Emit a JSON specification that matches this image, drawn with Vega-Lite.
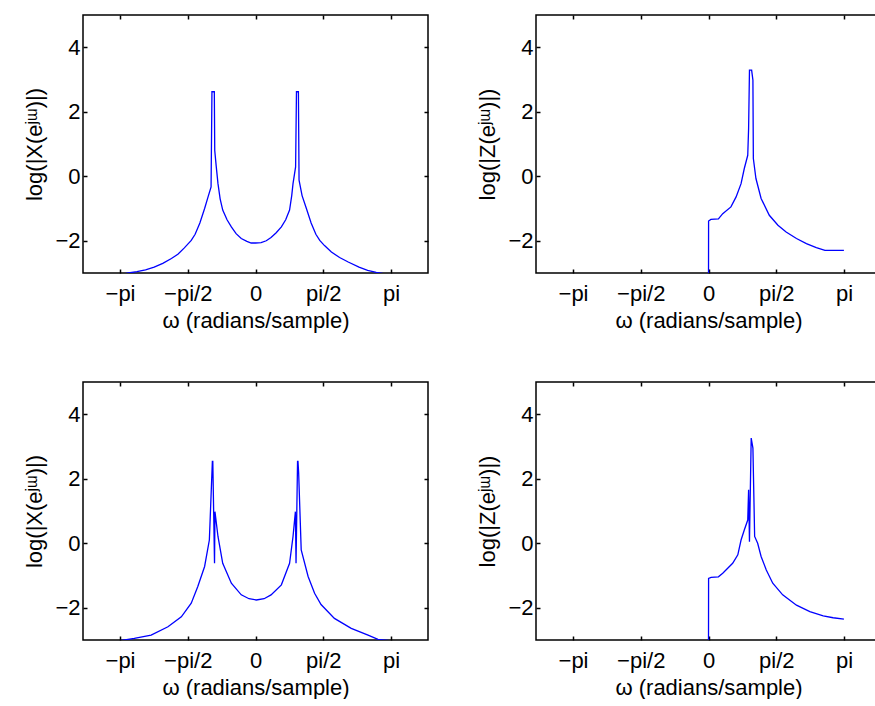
{
  "$schema": "https://vega.github.io/schema/vega-lite/v6.json",
  "padding": {"left": 23, "top": 13, "right": 0, "bottom": 0},
  "background": "white",
  "config": {
    "font": "Liberation Sans",
    "view": {"stroke": "#000000", "strokeWidth": 1.5},
    "axis": {
      "labelFont": "Liberation Sans", "labelFontSize": 22,
      "titleFont": "Liberation Sans", "titleFontSize": 22, "titleFontWeight": "normal",
      "labelColor": "#000000", "titleColor": "#000000", "tickColor": "#000000",
      "tickWidth": 1.5, "domain": false, "grid": false,
      "labelOverlap": false, "labelFlush": false
    }
  },
  "datasets": {
    "tl": [
      {"w": -3.14, "v": -3.05}, {"w": -2.95, "v": -3.0}, {"w": -2.75, "v": -2.96}, {"w": -2.55, "v": -2.9},
      {"w": -2.35, "v": -2.82}, {"w": -2.15, "v": -2.7}, {"w": -1.95, "v": -2.55}, {"w": -1.8, "v": -2.42},
      {"w": -1.65, "v": -2.22}, {"w": -1.49, "v": -1.99}, {"w": -1.4, "v": -1.8}, {"w": -1.29, "v": -1.45},
      {"w": -1.18, "v": -1.0}, {"w": -1.1, "v": -0.64}, {"w": -1.03, "v": -0.33}, {"w": -1.01, "v": 2.62},
      {"w": -0.955, "v": 2.62}, {"w": -0.945, "v": 0.8}, {"w": -0.91, "v": 0.3}, {"w": -0.87, "v": -0.23},
      {"w": -0.82, "v": -0.7}, {"w": -0.76, "v": -1.05}, {"w": -0.66, "v": -1.35}, {"w": -0.56, "v": -1.57},
      {"w": -0.45, "v": -1.78}, {"w": -0.33, "v": -1.93}, {"w": -0.2, "v": -2.02}, {"w": -0.1, "v": -2.07},
      {"w": 0.0, "v": -2.07}, {"w": 0.13, "v": -2.06}, {"w": 0.25, "v": -2.0}, {"w": 0.36, "v": -1.9},
      {"w": 0.48, "v": -1.75}, {"w": 0.6, "v": -1.57}, {"w": 0.7, "v": -1.35}, {"w": 0.79, "v": -1.05},
      {"w": 0.84, "v": -0.6}, {"w": 0.87, "v": -0.23}, {"w": 0.93, "v": 0.29}, {"w": 0.95, "v": 2.62},
      {"w": 0.995, "v": 2.62}, {"w": 1.01, "v": -0.12}, {"w": 1.08, "v": -0.6}, {"w": 1.18, "v": -1.0},
      {"w": 1.29, "v": -1.45}, {"w": 1.4, "v": -1.8}, {"w": 1.49, "v": -1.99}, {"w": 1.6, "v": -2.15},
      {"w": 1.76, "v": -2.35}, {"w": 1.95, "v": -2.52}, {"w": 2.15, "v": -2.66}, {"w": 2.4, "v": -2.82},
      {"w": 2.6, "v": -2.92}, {"w": 2.8, "v": -2.98}, {"w": 2.97, "v": -3.02}, {"w": 3.14, "v": -3.05}
    ],
    "tr": [
      {"w": 0.0, "v": -3.5}, {"w": 0.002, "v": -1.39}, {"w": 0.056, "v": -1.34}, {"w": 0.23, "v": -1.32},
      {"w": 0.33, "v": -1.16}, {"w": 0.52, "v": -0.95}, {"w": 0.64, "v": -0.64}, {"w": 0.755, "v": -0.23},
      {"w": 0.83, "v": 0.24}, {"w": 0.91, "v": 0.65}, {"w": 0.93, "v": 1.48}, {"w": 0.95, "v": 3.29},
      {"w": 1.0, "v": 3.29}, {"w": 1.03, "v": 2.98}, {"w": 1.04, "v": 0.55}, {"w": 1.1, "v": -0.07},
      {"w": 1.22, "v": -0.69}, {"w": 1.41, "v": -1.21}, {"w": 1.61, "v": -1.52}, {"w": 1.8, "v": -1.73},
      {"w": 2.04, "v": -1.93}, {"w": 2.27, "v": -2.09}, {"w": 2.5, "v": -2.21}, {"w": 2.7, "v": -2.3},
      {"w": 3.14, "v": -2.3}
    ],
    "bl": [
      {"w": -3.14, "v": -3.02}, {"w": -2.81, "v": -2.95}, {"w": -2.42, "v": -2.85}, {"w": -2.03, "v": -2.59},
      {"w": -1.72, "v": -2.28}, {"w": -1.49, "v": -1.86}, {"w": -1.34, "v": -1.35}, {"w": -1.18, "v": -0.72},
      {"w": -1.07, "v": 0.1}, {"w": -1.0, "v": 2.54}, {"w": -0.99, "v": 2.54}, {"w": -0.95, "v": -0.62},
      {"w": -0.94, "v": 0.98}, {"w": -0.87, "v": 0.21}, {"w": -0.76, "v": -0.62}, {"w": -0.56, "v": -1.24},
      {"w": -0.33, "v": -1.6}, {"w": -0.15, "v": -1.72}, {"w": 0.02, "v": -1.76}, {"w": 0.2, "v": -1.72},
      {"w": 0.36, "v": -1.6}, {"w": 0.6, "v": -1.29}, {"w": 0.79, "v": -0.62}, {"w": 0.87, "v": 0.21},
      {"w": 0.925, "v": 0.98}, {"w": 0.94, "v": -0.62}, {"w": 0.975, "v": 2.54}, {"w": 0.985, "v": 2.54},
      {"w": 1.0, "v": 2.2}, {"w": 1.06, "v": -0.21}, {"w": 1.22, "v": -1.03}, {"w": 1.37, "v": -1.55},
      {"w": 1.52, "v": -1.9}, {"w": 1.83, "v": -2.33}, {"w": 2.22, "v": -2.64}, {"w": 2.61, "v": -2.85},
      {"w": 2.84, "v": -2.98}, {"w": 3.11, "v": -3.02}
    ],
    "br": [
      {"w": 0.0, "v": -3.5}, {"w": 0.002, "v": -1.09}, {"w": 0.06, "v": -1.06}, {"w": 0.23, "v": -1.04},
      {"w": 0.33, "v": -0.93}, {"w": 0.56, "v": -0.62}, {"w": 0.68, "v": -0.36}, {"w": 0.755, "v": 0.1},
      {"w": 0.83, "v": 0.41}, {"w": 0.91, "v": 0.72}, {"w": 0.93, "v": 1.66}, {"w": 0.95, "v": 0.05},
      {"w": 0.99, "v": 3.26}, {"w": 1.03, "v": 2.95}, {"w": 1.07, "v": 0.21}, {"w": 1.14, "v": 0.0},
      {"w": 1.22, "v": -0.41}, {"w": 1.34, "v": -0.83}, {"w": 1.49, "v": -1.24}, {"w": 1.72, "v": -1.6},
      {"w": 2.04, "v": -1.92}, {"w": 2.35, "v": -2.12}, {"w": 2.66, "v": -2.25}, {"w": 2.89, "v": -2.31},
      {"w": 3.14, "v": -2.35}
    ]
  },
  "columns": 2,
  "spacing": {"row": 109, "column": 108},
  "bounds": "flush",
  "concat": [
    {
      "width": 345, "height": 258,
      "data": {"name": "tl"},
      "layer": [
        {"mark": {"type": "line", "color": "#0000ff", "strokeWidth": 1.3, "clip": true},
         "encoding": {
           "x": {"field": "w", "type": "quantitative", "scale": {"domain": [-4, 4], "nice": false, "zero": false},
                 "axis": {"orient": "bottom", "values": [-3.14159, -1.5708, 0, 1.5708, 3.14159],
                          "labelExpr": "datum.value < -3 ? '−pi' : datum.value < -1 ? '−pi/2' : datum.value > 3 ? 'pi' : datum.value > 1 ? 'pi/2' : '0'",
                          "title": "ω (radians/sample)", "tickSize": -4, "labelPadding": 14, "titlePadding": 6}},
           "y": {"field": "v", "type": "quantitative", "scale": {"domain": [-3, 5], "nice": false, "zero": false},
                 "axis": {"orient": "left", "values": [-2, 0, 2, 4], "title": "log(|X(eʲᵚ)|)", "tickSize": -4, "labelPadding": 7, "titlePadding": 8}}
         }},
        {"mark": {"type": "line", "opacity": 0, "clip": true},
         "encoding": {
           "x": {"field": "w", "type": "quantitative", "scale": {"domain": [-4, 4], "nice": false, "zero": false},
                 "axis": {"orient": "top", "values": [-3.14159, -1.5708, 0, 1.5708, 3.14159], "labels": false, "title": null, "tickSize": -4}},
           "y": {"field": "v", "type": "quantitative", "scale": {"domain": [-3, 5], "nice": false, "zero": false},
                 "axis": {"orient": "right", "values": [-2, 0, 2, 4], "labels": false, "title": null, "tickSize": -4}}
         }}
      ],
      "resolve": {"axis": {"x": "independent", "y": "independent"}}
    },
    {
      "width": 345, "height": 258,
      "data": {"name": "tr"},
      "layer": [
        {"mark": {"type": "line", "color": "#0000ff", "strokeWidth": 1.3, "clip": true},
         "encoding": {
           "x": {"field": "w", "type": "quantitative", "scale": {"domain": [-4, 4], "nice": false, "zero": false},
                 "axis": {"orient": "bottom", "values": [-3.14159, -1.5708, 0, 1.5708, 3.14159],
                          "labelExpr": "datum.value < -3 ? '−pi' : datum.value < -1 ? '−pi/2' : datum.value > 3 ? 'pi' : datum.value > 1 ? 'pi/2' : '0'",
                          "title": "ω (radians/sample)", "tickSize": -4, "labelPadding": 14, "titlePadding": 6}},
           "y": {"field": "v", "type": "quantitative", "scale": {"domain": [-3, 5], "nice": false, "zero": false},
                 "axis": {"orient": "left", "values": [-2, 0, 2, 4], "title": "log(|Z(eʲᵚ)|)", "tickSize": -4, "labelPadding": 7, "titlePadding": 8}}
         }},
        {"mark": {"type": "line", "opacity": 0, "clip": true},
         "encoding": {
           "x": {"field": "w", "type": "quantitative", "scale": {"domain": [-4, 4], "nice": false, "zero": false},
                 "axis": {"orient": "top", "values": [-3.14159, -1.5708, 0, 1.5708, 3.14159], "labels": false, "title": null, "tickSize": -4}},
           "y": {"field": "v", "type": "quantitative", "scale": {"domain": [-3, 5], "nice": false, "zero": false},
                 "axis": {"orient": "right", "values": [-2, 0, 2, 4], "labels": false, "title": null, "tickSize": -4}}
         }}
      ],
      "resolve": {"axis": {"x": "independent", "y": "independent"}}
    },
    {
      "width": 345, "height": 258,
      "data": {"name": "bl"},
      "layer": [
        {"mark": {"type": "line", "color": "#0000ff", "strokeWidth": 1.3, "clip": true},
         "encoding": {
           "x": {"field": "w", "type": "quantitative", "scale": {"domain": [-4, 4], "nice": false, "zero": false},
                 "axis": {"orient": "bottom", "values": [-3.14159, -1.5708, 0, 1.5708, 3.14159],
                          "labelExpr": "datum.value < -3 ? '−pi' : datum.value < -1 ? '−pi/2' : datum.value > 3 ? 'pi' : datum.value > 1 ? 'pi/2' : '0'",
                          "title": "ω (radians/sample)", "tickSize": -4, "labelPadding": 14, "titlePadding": 6}},
           "y": {"field": "v", "type": "quantitative", "scale": {"domain": [-3, 5], "nice": false, "zero": false},
                 "axis": {"orient": "left", "values": [-2, 0, 2, 4], "title": "log(|X(eʲᵚ)|)", "tickSize": -4, "labelPadding": 7, "titlePadding": 8}}
         }},
        {"mark": {"type": "line", "opacity": 0, "clip": true},
         "encoding": {
           "x": {"field": "w", "type": "quantitative", "scale": {"domain": [-4, 4], "nice": false, "zero": false},
                 "axis": {"orient": "top", "values": [-3.14159, -1.5708, 0, 1.5708, 3.14159], "labels": false, "title": null, "tickSize": -4}},
           "y": {"field": "v", "type": "quantitative", "scale": {"domain": [-3, 5], "nice": false, "zero": false},
                 "axis": {"orient": "right", "values": [-2, 0, 2, 4], "labels": false, "title": null, "tickSize": -4}}
         }}
      ],
      "resolve": {"axis": {"x": "independent", "y": "independent"}}
    },
    {
      "width": 345, "height": 258,
      "data": {"name": "br"},
      "layer": [
        {"mark": {"type": "line", "color": "#0000ff", "strokeWidth": 1.3, "clip": true},
         "encoding": {
           "x": {"field": "w", "type": "quantitative", "scale": {"domain": [-4, 4], "nice": false, "zero": false},
                 "axis": {"orient": "bottom", "values": [-3.14159, -1.5708, 0, 1.5708, 3.14159],
                          "labelExpr": "datum.value < -3 ? '−pi' : datum.value < -1 ? '−pi/2' : datum.value > 3 ? 'pi' : datum.value > 1 ? 'pi/2' : '0'",
                          "title": "ω (radians/sample)", "tickSize": -4, "labelPadding": 14, "titlePadding": 6}},
           "y": {"field": "v", "type": "quantitative", "scale": {"domain": [-3, 5], "nice": false, "zero": false},
                 "axis": {"orient": "left", "values": [-2, 0, 2, 4], "title": "log(|Z(eʲᵚ)|)", "tickSize": -4, "labelPadding": 7, "titlePadding": 8}}
         }},
        {"mark": {"type": "line", "opacity": 0, "clip": true},
         "encoding": {
           "x": {"field": "w", "type": "quantitative", "scale": {"domain": [-4, 4], "nice": false, "zero": false},
                 "axis": {"orient": "top", "values": [-3.14159, -1.5708, 0, 1.5708, 3.14159], "labels": false, "title": null, "tickSize": -4}},
           "y": {"field": "v", "type": "quantitative", "scale": {"domain": [-3, 5], "nice": false, "zero": false},
                 "axis": {"orient": "right", "values": [-2, 0, 2, 4], "labels": false, "title": null, "tickSize": -4}}
         }}
      ],
      "resolve": {"axis": {"x": "independent", "y": "independent"}}
    }
  ]
}
